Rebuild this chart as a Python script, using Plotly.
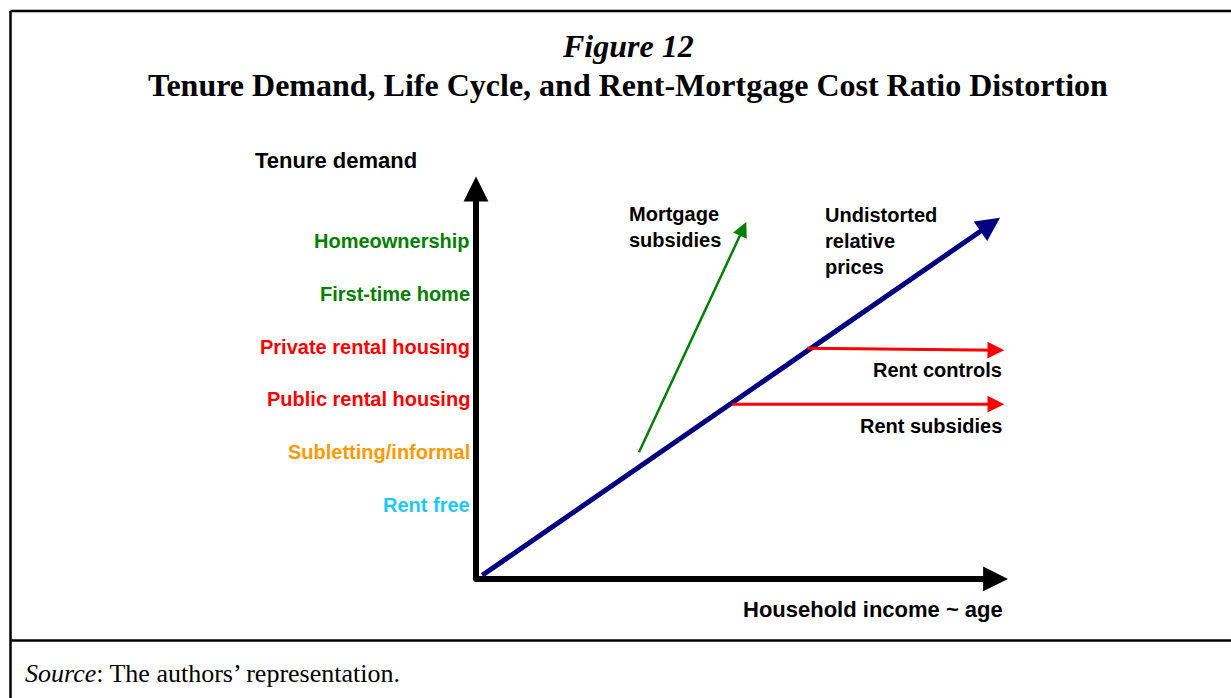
import plotly.graph_objects as go

W, H = 1231, 698

# ---- data (conceptual units: x = household income ~ age, y = tenure level) ----
tenure_labels = ["Rent free", "Subletting/informal", "Public rental housing",
                 "Private rental housing", "First-time home", "Homeownership"]
tenure_levels = [1, 2, 3, 4, 5, 6]
tenure_colors = ["#1EC8FF", "#FF9900", "#FF0000", "#FF0000", "#008000", "#008000"]

# axes arrows (start, end)
x_axis_arrow = [(-0.06, -0.40), (10.0, -0.40)]
y_axis_arrow = [(0.0, -0.46), (0.0, 7.22)]

# demand paths (start, end)
undistorted_arrow = [(0.09, -0.35), (9.85, 6.44)]
mortgage_arrow = [(3.05, 1.97), (5.08, 6.36)]
rent_controls_arrow = [(6.20, 3.97), (9.93, 3.93)]
rent_subsidies_arrow = [(4.79, 2.91), (9.93, 2.91)]

# ---- figure ----
X_RANGE = [-476 / 53.2, (W - 476) / 53.2]
Y_RANGE = [(557.8 - H) / 52.8, 557.8 / 52.8]

SANS = "Liberation Sans, Arial, Helvetica, sans-serif"
SERIF = "Liberation Serif, Times New Roman, Times, serif"

fig = go.Figure()
fig.add_trace(go.Scatter(x=[undistorted_arrow[0][0]], y=[undistorted_arrow[0][1]],
                         mode="markers", marker=dict(size=1, opacity=0),
                         hoverinfo="skip", showlegend=False))

annotations = []


def arrow(seg, color, width, size):
    (x0, y0), (x1, y1) = seg
    annotations.append(dict(
        x=x1, y=y1, ax=x0, ay=y0, xref="x", yref="y", axref="x", ayref="y",
        text="", showarrow=True, arrowhead=2, arrowsize=size,
        arrowwidth=width, arrowcolor=color, standoff=0, startstandoff=0))


arrow(y_axis_arrow, "#000000", 6, 0.83)
arrow(x_axis_arrow, "#000000", 6, 0.83)
arrow(undistorted_arrow, "#000080", 5, 0.95)
arrow(mortgage_arrow, "#008000", 2.5, 1.2)
arrow(rent_controls_arrow, "#FF0000", 3, 1.12)
arrow(rent_subsidies_arrow, "#FF0000", 3, 1.12)

# tenure category labels
for lab, lev, col in zip(tenure_labels, tenure_levels, tenure_colors):
    annotations.append(dict(x=-0.07, y=lev, xref="x", yref="y", text="<b>%s</b>" % lab,
                            showarrow=False, xanchor="right", yanchor="middle",
                            font=dict(family=SANS, size=20, color=col)))


def label(x, y, text, xanchor, size=20):
    annotations.append(dict(x=x, y=y, xref="x", yref="y", text=text, showarrow=False,
                            xanchor=xanchor, yanchor="middle", align=xanchor,
                            font=dict(family=SANS, size=size, color="#000000")))


label(-4.19, 7.53, "<b>Tenure demand</b>", "left", 22)
label(9.94, -0.97, "<b>Household income ~ age</b>", "right", 22)
label(2.84, 6.26, "<b>Mortgage<br>subsidies</b>", "left")
label(6.52, 6.00, "<b>Undistorted<br>relative<br>prices</b>", "left")
label(9.93, 3.56, "<b>Rent controls</b>", "right")
label(9.93, 2.50, "<b>Rent subsidies</b>", "right")

# titles and source
annotations.append(dict(x=628 / W, y=1 - 46 / H, xref="paper", yref="paper",
                        text="<b><i>Figure 12</i></b>", showarrow=False,
                        xanchor="center", yanchor="middle",
                        font=dict(family=SERIF, size=32, color="#000000")))
annotations.append(dict(x=628 / W, y=1 - 85 / H, xref="paper", yref="paper",
                        text="<b>Tenure Demand, Life Cycle, and Rent-Mortgage Cost Ratio Distortion</b>",
                        showarrow=False, xanchor="center", yanchor="middle",
                        font=dict(family=SERIF, size=32, color="#000000")))
annotations.append(dict(x=23 / W, y=1 - 673 / H, xref="paper", yref="paper",
                        text="<i>Source</i>: The authors\u2019 representation.",
                        showarrow=False, xanchor="left", yanchor="middle",
                        font=dict(family=SERIF, size=26, color="#000000")))

shapes = [
    dict(type="line", xref="paper", yref="paper", x0=10.5 / W, x1=1.0,
         y0=1 - 11 / H, y1=1 - 11 / H, line=dict(color="#000000", width=2.5)),
    dict(type="line", xref="paper", yref="paper", x0=10.5 / W, x1=10.5 / W,
         y0=1 - 11 / H, y1=0.0, line=dict(color="#000000", width=2.5)),
    dict(type="line", xref="paper", yref="paper", x0=10.5 / W, x1=1.0,
         y0=1 - 640.5 / H, y1=1 - 640.5 / H, line=dict(color="#000000", width=2.5)),
]

fig.update_layout(
    width=W, height=H,
    margin=dict(l=0, r=0, t=0, b=0),
    paper_bgcolor="#FFFFFF", plot_bgcolor="#FFFFFF",
    xaxis=dict(range=X_RANGE, visible=False, fixedrange=True),
    yaxis=dict(range=Y_RANGE, visible=False, fixedrange=True),
    annotations=annotations, shapes=shapes, showlegend=False,
)

fig.write_html("out.html", config={"displayModeBar": False},
               post_script="document.body.style.margin='0';document.body.style.overflow='hidden';")
